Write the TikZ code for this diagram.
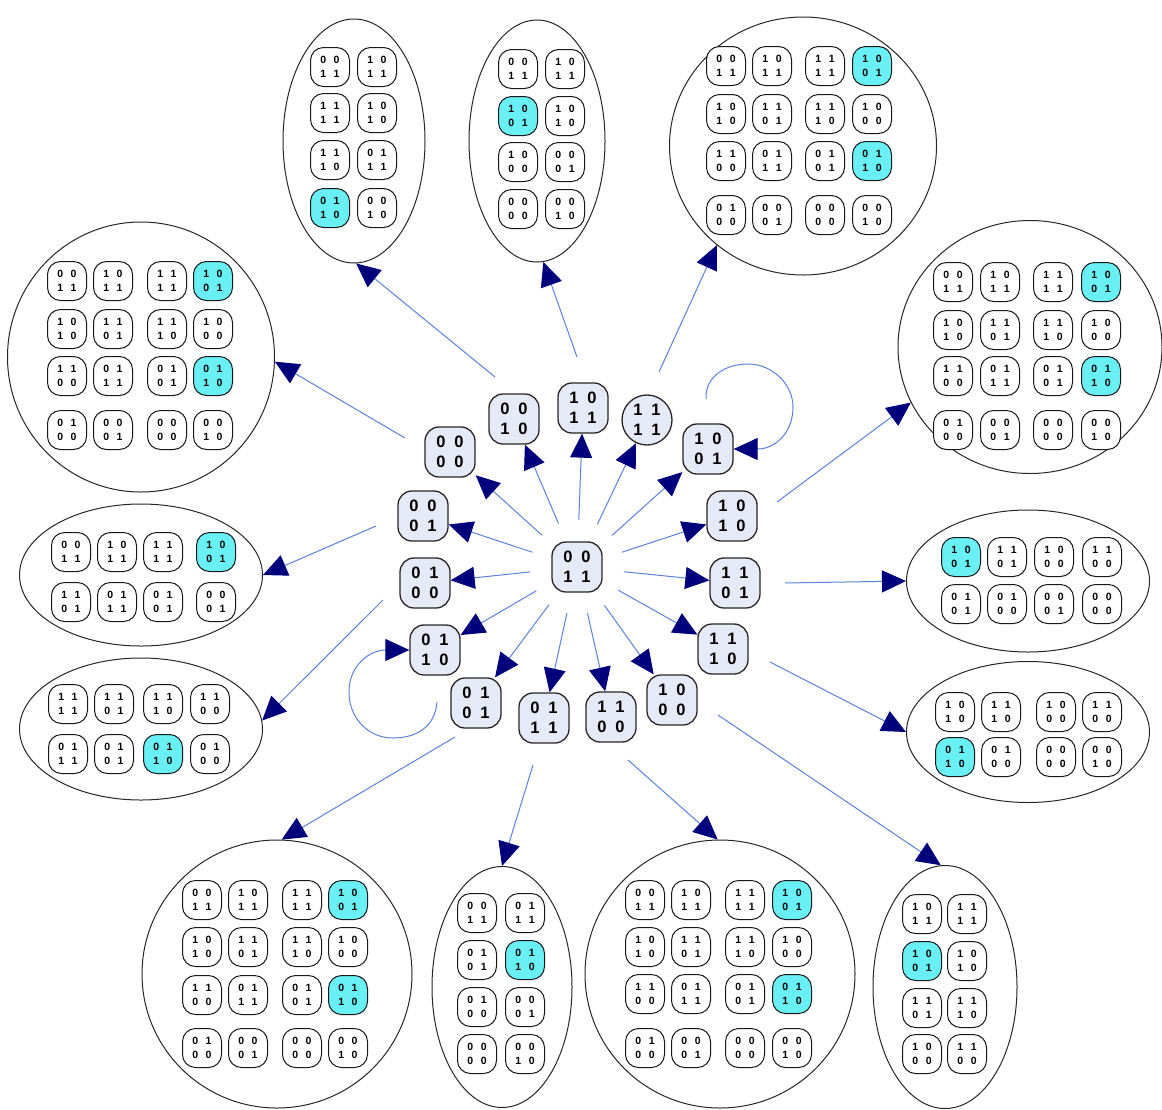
\documentclass[tikz,border=0pt]{standalone}
\usepackage{fontspec}
\setmainfont{Liberation Sans}
\usetikzlibrary{shapes.geometric, arrows.meta}

\definecolor{statefill}{RGB}{230,234,246}
\definecolor{linkblue}{RGB}{90,130,220}
\definecolor{headblue}{RGB}{0,0,125}
\definecolor{hi}{RGB}{105,240,245}
\colorlet{lo}{white}

% 2x2 matrix from four digits
\newlength{\mxgap}
\newcommand{\mx}[4]{#1\hspace{\mxgap}#2\\#3\hspace{\mxgap}#4}

% a set of small matrices: name, column x's, row y's, list of bits/fill
\newcommand{\cellset}[4]{%
  \foreach \bits/\fc [count=\k from 0] in #4 {
    \pgfmathtruncatemacro{\ci}{mod(\k,dim({#2}))}
    \pgfmathtruncatemacro{\ri}{div(\k,dim({#2}))}
    \pgfmathsetmacro{\xx}{{#2}[\ci]}
    \pgfmathsetmacro{\yy}{{#3}[\ri]}
    \node[cell, fill=\fc] (#1-\ri-\ci) at (\xx,\yy) {\expandafter\mx\bits};
  }}

\def\fullset{0011/lo,1011/lo,1111/lo,1001/hi,1010/lo,1101/lo,1110/lo,1000/lo,1100/lo,0111/lo,0101/lo,0110/hi,0100/lo,0001/lo,0000/lo,0010/lo}
\def\setTopA{0011/lo,1011/lo,1111/lo,1010/lo,1110/lo,0111/lo,0110/hi,0010/lo}
\def\setTopB{0011/lo,1011/lo,1001/hi,1010/lo,1000/lo,0001/lo,0000/lo,0010/lo}
\def\setLeftB{0011/lo,1011/lo,1111/lo,1001/hi,1101/lo,0111/lo,0101/lo,0001/lo}
\def\setLeftC{1111/lo,1101/lo,1110/lo,1100/lo,0111/lo,0101/lo,0110/hi,0100/lo}
\def\setRightB{1001/hi,1101/lo,1000/lo,1100/lo,0101/lo,0100/lo,0001/lo,0000/lo}
\def\setRightC{1010/lo,1110/lo,1000/lo,1100/lo,0110/hi,0100/lo,0000/lo,0010/lo}
\def\setBotB{0011/lo,0111/lo,0101/lo,0110/hi,0100/lo,0001/lo,0000/lo,0010/lo}
\def\setBotD{1011/lo,1111/lo,1001/hi,1010/lo,1101/lo,1110/lo,1000/lo,1100/lo}

\begin{document}
\begin{tikzpicture}[x=1pt, y=-1pt,
    state/.style = {draw=black!85, line width=1.3pt, fill=statefill, rounded corners=14pt, minimum size=50pt, inner sep=0pt, align=center, font={\fontsize{16.5}{20}\selectfont\bfseries\setlength{\mxgap}{9pt}}},
    cell/.style = {draw=black!90, line width=1pt, rounded corners=13pt, minimum size=39pt, inner sep=0pt, align=center, font={\fontsize{10.5}{13.5}\selectfont\bfseries\setlength{\mxgap}{7.5pt}}},
    group/.style = {ellipse, draw=black!85, line width=1pt, inner sep=0pt},
    link/.style = {draw=linkblue, line width=1pt, -{Triangle[length=24pt, width=22pt, color=headblue]}}
]
\useasboundingbox (0,0) rectangle (1162,1109);

% Outer sets
\node[group, minimum width=142pt, minimum height=244pt] (top1) at (354,141) {};
\node[group, minimum width=136pt, minimum height=242pt] (top2) at (537,141) {};
\node[group, minimum width=267pt, minimum height=258pt] (top3) at (803,146) {};
\node[group, minimum width=267pt, minimum height=270pt] (left1) at (141,357) {};
\node[group, minimum width=243pt, minimum height=142pt] (left2) at (141,575) {};
\node[group, minimum width=243pt, minimum height=142pt] (left3) at (141,729) {};
\node[group, minimum width=264pt, minimum height=253pt] (right1) at (1030,347) {};
\node[group, minimum width=243pt, minimum height=142pt] (right2) at (1028,581) {};
\node[group, minimum width=243pt, minimum height=141pt] (right3) at (1028,732) {};
\node[group, minimum width=270pt, minimum height=268pt] (bot1) at (277,974) {};
\node[group, minimum width=140pt, minimum height=241pt] (bot2) at (502,987) {};
\node[group, minimum width=270pt, minimum height=268pt] (bot3) at (720,974) {};
\node[group, minimum width=144pt, minimum height=243pt] (bot4) at (945,987) {};

\cellset{top1}{330,377}{67,113,160,208}{\setTopA}
\cellset{top2}{518,565}{69,116,162,209}{\setTopB}
\cellset{top3}{726,772,825,872}{66,114,161,215}{\fullset}
\cellset{left1}{67,113,167,213}{281,329,376,430}{\fullset}
\cellset{left2}{71,117,163,216}{552,602}{\setLeftB}
\cellset{left3}{68,114,163,210}{704,754}{\setLeftC}
\cellset{right1}{953,1000,1053,1101}{282,330,376,430}{\fullset}
\cellset{right2}{961,1007,1054,1102}{557,604}{\setRightB}
\cellset{right3}{955,1001,1056,1102}{712,757}{\setRightC}
\cellset{bot1}{202,248,302,348}{900,947,995,1048}{\fullset}
\cellset{bot2}{477,525}{913,960,1007,1054}{\setBotB}
\cellset{bot3}{645,691,745,792}{900,947,994,1048}{\fullset}
\cellset{bot4}{922,967}{914,961,1008,1054}{\setBotD}

% States
\node[state] (s0011) at (577,567) {\mx 0011};
\node[circle, minimum size=94pt] (hub) at (577,567) {};
\node[state] (s0000) at (450,452) {\mx 0000};
\node[state] (s0010) at (514,419) {\mx 0010};
\node[state] (s1011) at (583,408) {\mx 1011};
\node[state, circle] (s1111) at (647,420) {\mx 1111};
\node[state] (s1001) at (708,449) {\mx 1001};
\node[state] (s1010) at (732,516) {\mx 1010};
\node[state] (s1101) at (735,583) {\mx 1101};
\node[state] (s1110) at (723,649) {\mx 1110};
\node[state] (s1000) at (672,700) {\mx 1000};
\node[state] (s1100) at (611,717) {\mx 1100};
\node[state] (s0111) at (544,718) {\mx 0111};
\node[state] (s0101) at (476,703) {\mx 0101};
\node[state] (s0110) at (435,650) {\mx 0110};
\node[state] (s0100) at (425,583) {\mx 0100};
\node[state] (s0001) at (423,516) {\mx 0001};

% Transitions from 0011
\foreach \s in {0000,0010,1011,1111,1001,1010,1101,1110,1000,1100,0111,0101,0110,0100,0001}
  \draw[link] (hub) -- (s\s);

% Self loops
\coordinate (l1001) at (706,399);
\draw[link] (l1001) .. controls (705,376) and (726,364) .. (748,364) .. controls (772,364) and (793,384) .. (793,407) .. controls (793,433) and (775,449) .. (s1001.east);
\coordinate (l0110) at (437,702);
\draw[link] (l0110) .. controls (435,728) and (415,738) .. (393,738) .. controls (368,738) and (349,718) .. (349,692) .. controls (349,665) and (370,650) .. (s0110.west);

% Links out to the sets
\coordinate (o-top1) at (495,377);
\coordinate (o-top2) at (577,357);
\coordinate (o-top3) at (659,372);
\coordinate (o-left1) at (405,438);
\coordinate (o-left2) at (376,526);
\coordinate (o-left3) at (383,600);
\coordinate (o-bot1) at (455,737);
\coordinate (o-bot2) at (533,765);
\coordinate (o-bot3) at (628,760);
\coordinate (o-bot4) at (718,715);
\coordinate (o-right3) at (770,662);
\coordinate (o-right2) at (785,583);
\coordinate (o-right1) at (777,502);

\draw[link] (o-top1) -- (top1.-89);
\draw[link] (o-top2) -- (top2.-87);
\draw[link] (o-top3) -- (top3.-131);
\draw[link] (o-left1) -- (left1.-2);
\draw[link] (o-left2) -- (left2.0);
\draw[link] (o-left3) -- (left3.4);
\draw[link] (o-bot1) -- (bot1.88);
\draw[link] (o-bot2) -- (bot2.90);
\draw[link] (o-bot3) -- (bot3.91);
\draw[link] (o-bot4) -- (bot4.92);
\draw[link] (o-right3) -- (right3.180);
\draw[link] (o-right2) -- (right2.180);
\draw[link] (o-right1) -- (right1.-155);

\end{tikzpicture}
\end{document}
